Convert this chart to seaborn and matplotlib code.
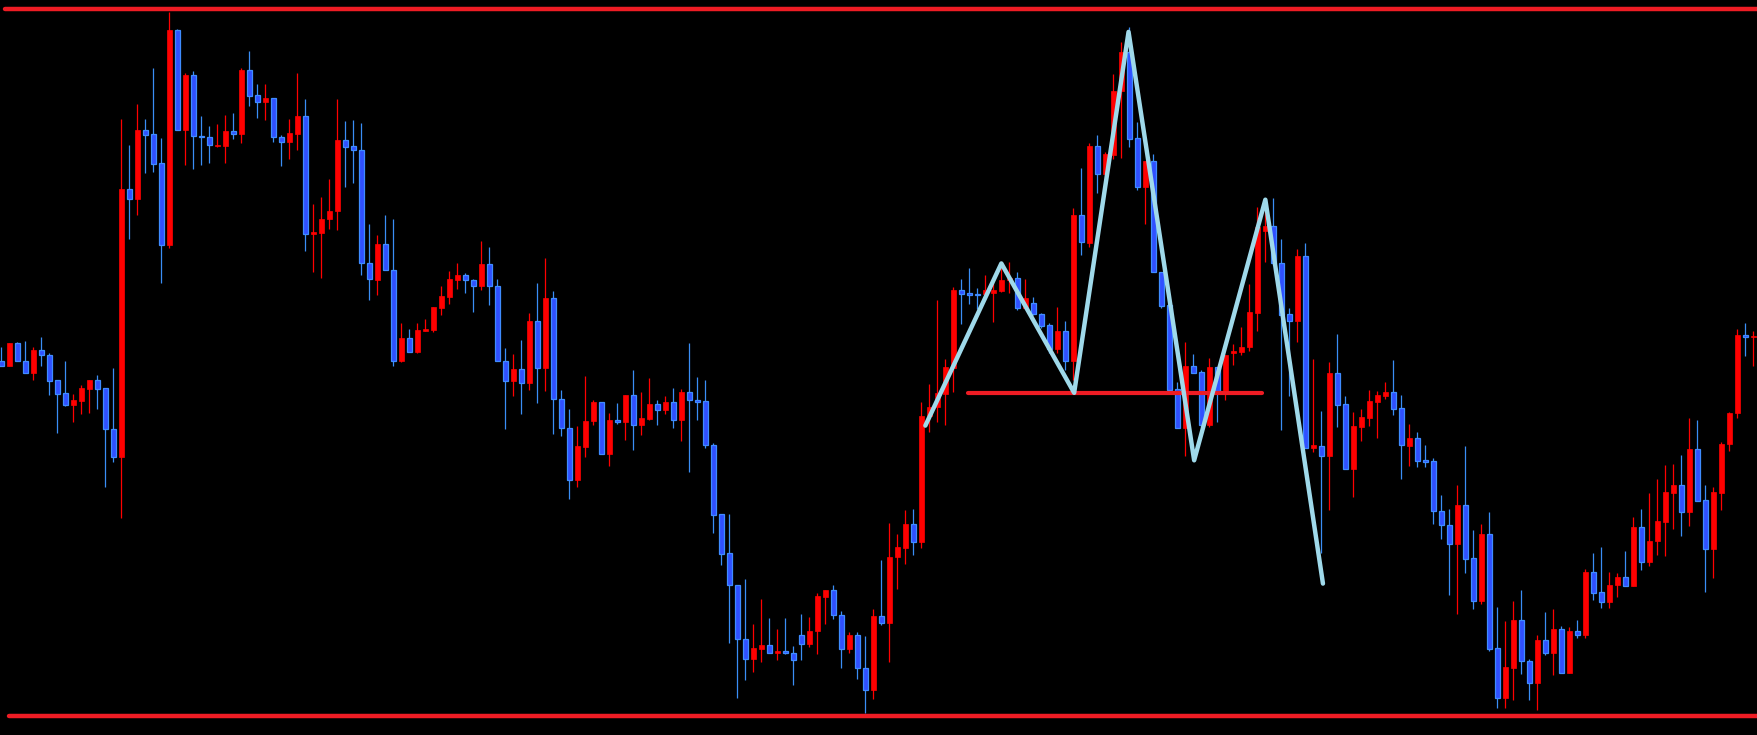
import numpy as np
import pandas as pd
import matplotlib
matplotlib.use("Agg")
import matplotlib.pyplot as plt
import seaborn as sns

# ---- candle data (arbitrary price units) ----
opens = [830, 820, 868, 830, 805, 853, 843, 789, 762, 735, 745, 771, 789, 772, 685, 625, 1197, 1176, 1323, 1314,
         1252, 1078, 1536, 1322, 1440, 1310, 1308, 1289, 1289, 1321, 1315, 1451, 1397, 1383, 1391, 1308, 1297, 1315, 1353, 1100,
         1104, 1132, 1149, 1301, 1289, 1280, 1039, 1003, 1079, 1024, 829, 879, 849, 894, 896, 944, 967, 1003, 1013, 1002,
         989, 1037, 990, 830, 788, 813, 784, 915, 816, 964, 749, 687, 577, 647, 701, 742, 632, 704, 699, 757,
         694, 707, 738, 726, 742, 705, 764, 747, 745, 651, 503, 420, 352, 237, 195, 215, 224, 206, 211, 207,
         245, 227, 253, 327, 341, 288, 216, 245, 175, 127, 286, 272, 411, 432, 482, 443, 712, 732, 760, 816,
         981, 974, 973, 972, 974, 980, 1002, 1007, 942, 954, 930, 907, 855, 894, 830, 1141, 1082, 1289, 1228, 1269,
         1405, 1489, 1305, 1202, 1257, 1020, 949, 770, 686, 819, 806, 693, 817, 765, 848, 850, 859, 933, 1107, 1118,
         1040, 930, 915, 1054, 645, 649, 628, 804, 738, 600, 689, 709, 743, 755, 764, 730, 649, 666, 618, 617,
         510, 480, 439, 523, 410, 317, 461, 217, 111, 175, 277, 190, 143, 235, 206, 258, 165, 254, 245, 380,
         337, 316, 351, 369, 349, 476, 402, 445, 487, 549, 565, 507, 642, 533, 428, 549, 652, 718, 885, 881]
highs = [860, 868, 870, 873, 860, 881, 848, 789, 830, 759, 778, 789, 800, 772, 815, 1346, 1291, 1378, 1346, 1455,
         1306, 1575, 1538, 1445, 1449, 1353, 1331, 1335, 1355, 1359, 1455, 1491, 1421, 1421, 1391, 1312, 1346, 1445, 1389, 1165,
         1180, 1218, 1389, 1342, 1344, 1338, 1122, 1099, 1141, 1133, 911, 898, 911, 919, 945, 990, 1022, 1039, 1017, 1004,
         1086, 1073, 1005, 858, 845, 875, 932, 996, 1050, 979, 768, 727, 691, 798, 747, 742, 719, 740, 757, 811,
         764, 794, 747, 755, 772, 770, 868, 796, 789, 654, 503, 503, 352, 365, 269, 322, 282, 258, 282, 222,
         290, 284, 334, 341, 351, 297, 252, 252, 243, 301, 405, 484, 461, 512, 514, 742, 781, 960, 834, 988,
         1005, 1028, 986, 1013, 1003, 1028, 1041, 1020, 1005, 966, 932, 910, 945, 915, 1156, 1242, 1295, 1313, 1275, 1443,
         1510, 1542, 1340, 1257, 1271, 1020, 949, 786, 871, 845, 810, 836, 817, 843, 866, 903, 995, 1158, 1154, 1178,
         1090, 942, 1069, 1082, 834, 723, 828, 887, 755, 721, 727, 768, 766, 785, 832, 757, 695, 678, 651, 623,
         544, 514, 565, 649, 469, 482, 508, 305, 275, 318, 341, 195, 245, 294, 301, 265, 262, 277, 386, 420,
         433, 380, 378, 425, 497, 514, 548, 578, 608, 610, 629, 708, 704, 565, 561, 657, 721, 898, 911, 894]
lows = [820, 820, 829, 805, 790, 820, 758, 677, 733, 699, 716, 720, 728, 562, 615, 494, 1090, 1142, 1232, 1234,
        997, 1070, 1322, 1247, 1240, 1247, 1253, 1287, 1253, 1303, 1296, 1374, 1349, 1344, 1298, 1245, 1261, 1279, 1065, 1020,
        1007, 1111, 1110, 1202, 1210, 1013, 959, 970, 1023, 820, 827, 850, 847, 894, 891, 927, 951, 984, 975, 935,
        982, 950, 829, 684, 756, 716, 769, 741, 765, 675, 669, 536, 562, 626, 694, 632, 605, 695, 662, 639,
        673, 704, 694, 716, 688, 660, 594, 703, 645, 462, 394, 229, 110, 150, 167, 187, 206, 191, 204, 138,
        193, 220, 204, 268, 280, 174, 208, 152, 78, 108, 267, 187, 344, 396, 417, 432, 678, 700, 694, 763,
        908, 952, 940, 960, 913, 977, 975, 938, 940, 928, 900, 848, 846, 810, 790, 1057, 1073, 1189, 1220, 1260,
        1262, 1287, 1195, 1122, 1020, 943, 769, 686, 628, 805, 688, 690, 699, 746, 822, 842, 852, 894, 1042, 1035,
        682, 755, 870, 645, 635, 420, 512, 689, 600, 540, 659, 692, 666, 749, 715, 578, 606, 604, 604, 482,
        450, 331, 290, 378, 301, 311, 211, 90, 90, 107, 162, 107, 85, 203, 160, 165, 165, 239, 239, 320,
        303, 303, 327, 349, 349, 384, 393, 416, 414, 472, 457, 478, 532, 338, 367, 512, 638, 709, 841, 820]
closes = [820, 868, 829, 805, 853, 842, 788, 760, 735, 747, 772, 789, 771, 684, 626, 1197, 1176, 1323, 1313, 1251,
          1078, 1536, 1322, 1440, 1309, 1307, 1290, 1291, 1321, 1315, 1451, 1396, 1383, 1391, 1307, 1298, 1316, 1353, 1100, 1105,
          1133, 1150, 1301, 1287, 1279, 1038, 1004, 1079, 1023, 829, 879, 850, 896, 898, 945, 969, 1005, 1013, 1002, 989,
          1037, 989, 829, 788, 813, 784, 915, 816, 964, 748, 686, 577, 649, 702, 742, 632, 704, 699, 757, 694,
          708, 738, 726, 742, 705, 764, 746, 743, 650, 502, 419, 351, 236, 195, 218, 224, 206, 211, 206, 191,
          227, 254, 329, 341, 287, 216, 245, 174, 127, 286, 272, 412, 433, 482, 443, 713, 732, 762, 817, 981,
          972, 971, 970, 982, 982, 1003, 1008, 942, 964, 930, 905, 855, 894, 830, 1141, 1083, 1289, 1228, 1271, 1406,
          1489, 1304, 1202, 1257, 1020, 948, 769, 686, 819, 805, 693, 817, 765, 843, 852, 860, 934, 1116, 1118, 1040,
          929, 915, 1054, 645, 650, 628, 804, 737, 600, 691, 710, 745, 757, 764, 728, 650, 666, 617, 615, 509,
          479, 439, 523, 408, 317, 461, 215, 111, 177, 277, 189, 143, 235, 206, 258, 165, 254, 245, 380, 335,
          316, 352, 369, 349, 476, 402, 446, 489, 550, 565, 507, 642, 532, 428, 550, 653, 719, 885, 882, 883]

# ---- annotation levels ----
top_level = 1580
bottom_level = 72
neck_level = 761
neck_start, neck_end = 120.8, 157.6
zig_x = [115.5, 125.0, 134.1, 140.9, 149.1, 158.0, 165.2]
zig_y = [692, 1038, 762, 1532, 618, 1174, 355]

df = pd.DataFrame({"open": opens, "high": highs, "low": lows, "close": closes})
df["idx"] = np.arange(len(df))
df["up"] = df["close"] >= df["open"]

sns.set_style("dark", {"axes.facecolor": "black", "figure.facecolor": "black"})

fig = plt.figure(figsize=(17.58, 7.35), dpi=100)
fig.patch.set_facecolor("black")
ax = fig.add_axes([0, 0, 1, 1])
ax.set_facecolor("black")

RED = "#ff0000"
BLUE_FILL = "#3050ff"
BLUE_EDGE = "#3f8cff"
BLUE_WICK = "#3a8ef5"

up = df[df["up"]]
dn = df[~df["up"]]

# wicks
ax.vlines(up["idx"], up["low"], up["high"], color=RED, lw=0.9, zorder=2)
ax.vlines(dn["idx"], dn["low"], dn["high"], color=BLUE_WICK, lw=0.9, zorder=2)

# bodies
w = 0.58
ub = np.maximum(up["close"] - up["open"], 2)
ax.bar(up["idx"], ub, bottom=up["open"], width=w, color=RED, edgecolor=RED, lw=0.5, zorder=3)
db = np.maximum(dn["open"] - dn["close"], 2)
ax.bar(dn["idx"], db, bottom=dn["close"], width=w, color=BLUE_FILL, edgecolor=BLUE_EDGE, lw=0.9, zorder=3)

# support / resistance lines
ax.plot([0.5, 225], [top_level, top_level], color="#ee1c24", lw=3.2, solid_capstyle="round", zorder=4)
ax.plot([1.0, 225], [bottom_level, bottom_level], color="#ee1c24", lw=3.2, solid_capstyle="round", zorder=4)
ax.plot([neck_start, neck_end], [neck_level, neck_level], color="#ee1c24", lw=3.0,
        solid_capstyle="round", zorder=4)

# zigzag pattern
zz = pd.DataFrame({"x": zig_x, "y": zig_y})
sns.lineplot(data=zz, x="x", y="y", ax=ax, color="#9fd9ea", lw=3.2, sort=False, zorder=5,
             solid_capstyle="round", solid_joinstyle="round")

ax.set_xlim(-0.167, 219.58)
ax.set_ylim(32, 1600)
ax.axis("off")

fig.savefig("out.png", dpi=100, facecolor="black")
